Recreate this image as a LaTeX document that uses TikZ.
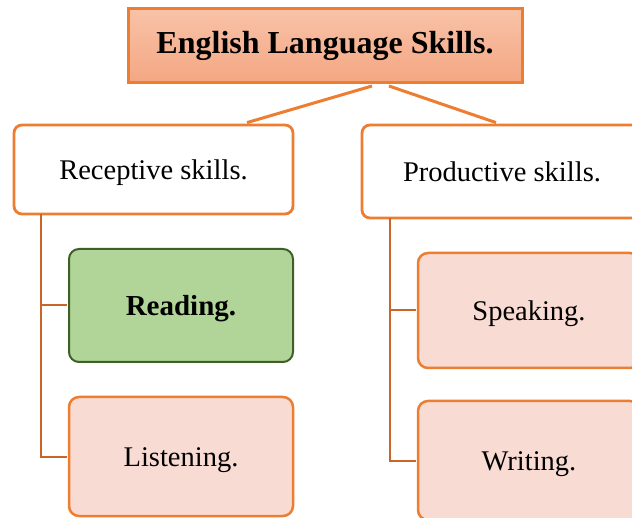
\documentclass[tikz,border=0pt]{standalone}
\usepackage{fontspec}
\setmainfont{Liberation Serif}
\definecolor{orng}{HTML}{ED7D31}
\definecolor{dorng}{HTML}{C8662A}
\definecolor{pinkfill}{HTML}{F8DBD3}
\definecolor{greenfill}{HTML}{B1D598}
\definecolor{greenline}{HTML}{3F5F27}
\definecolor{toptop}{HTML}{F8C2A8}
\definecolor{topbot}{HTML}{F4A783}
\tikzset{
  txt/.style={font=\fontsize{28.5}{34}\selectfont, align=center, inner sep=0pt,
    text height=19.5pt, text depth=0pt},
  topbox/.style={draw=orng, line width=3pt, top color=toptop, bottom color=topbot,
    minimum width=394pt, minimum height=74pt, inner sep=0pt,
    font=\fontsize{32}{38}\selectfont\bfseries},
  catbox/.style={txt, draw=orng, line width=2.8pt, fill=white, rounded corners=8pt},
  pinkbox/.style={txt, draw=orng, line width=2.5pt, fill=pinkfill, rounded corners=10pt,
    minimum width=224pt},
  greenbox/.style={txt, draw=greenline, line width=2pt, fill=greenfill, rounded corners=10pt,
    minimum width=224pt, font=\fontsize{29}{34}\selectfont\bfseries},
  link/.style={draw=orng, line width=3pt},
  tree/.style={draw=dorng, line width=2pt},
}
\begin{document}
\begin{tikzpicture}[x=1pt, y=-1pt]
\useasboundingbox (0,0) rectangle (632,518);
\clip (0,0) rectangle (632,518);
\node[topbox] (top) at (325,46) {English Language Skills.};
\node[catbox, minimum width=279pt, minimum height=89pt] (rec) at (153.5,169.5) {Receptive skills.};
\node[catbox, minimum width=280pt, minimum height=93pt] (prod) at (502,171.5) {Productive skills.};
\node[greenbox, minimum height=113pt] (read) at (181,305.5) {Reading.};
\node[pinkbox, minimum height=119pt] (list) at (181,456.5) {Listening.};
\node[pinkbox, minimum width=222pt, minimum height=115pt] (speak) at (529,310.5) {Speaking.};
\node[pinkbox, minimum width=222pt, minimum height=119pt] (write) at (529,460.5) {Writing.};
\draw[link] ([xshift=47pt,yshift=-1.5pt]top.south) -- ([xshift=93.5pt,yshift=1pt]rec.north);
\draw[link] ([xshift=64pt,yshift=-1.5pt]top.south) -- ([xshift=-6pt,yshift=1pt]prod.north);
\draw[tree] ([xshift=28pt,yshift=1.4pt]rec.south west) |- ([xshift=-1pt]read.west);
\draw[tree] ([xshift=28pt,yshift=1.4pt]rec.south west) |- ([xshift=-1pt]list.west);
\draw[tree] ([xshift=29pt,yshift=1.4pt]prod.south west) |- ([xshift=-1pt]speak.west);
\draw[tree] ([xshift=29pt,yshift=1.4pt]prod.south west) |- ([xshift=-1pt]write.west);
\end{tikzpicture}
\end{document}
